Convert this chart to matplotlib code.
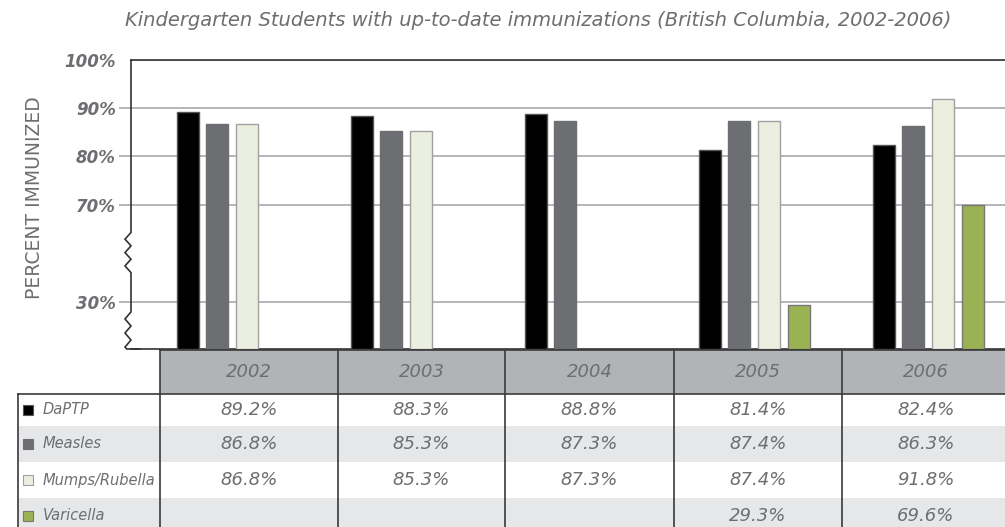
import numpy as np
import matplotlib.pyplot as plt
from matplotlib.patches import Rectangle
from matplotlib.transforms import blended_transform_factory

# data
years = ["2002", "2003", "2004", "2005", "2006"]
vaccines = ["DaPTP", "Measles", "Mumps/Rubella", "Varicella"]
daptp = [89.2, 88.3, 88.8, 81.4, 82.4]
measles = [86.8, 85.3, 87.3, 87.4, 86.3]
mumps = [86.8, 85.3, 87.3, 87.4, 91.8]
varicella = [None, None, None, 29.3, 69.6]
# the original graphic has no mumps/rubella bar for 2004
mumps_bar = [True, True, False, True, True]
y_ticks = [30, 70, 80, 90, 100]

series = [daptp, measles, mumps, varicella]
show = [[True] * 5, [True] * 5, mumps_bar, [True] * 5]
colors = ["#000000", "#6d6e71", "#ebefdf", "#9bb254"]
edges = ["#555555", "#6d6e71", "#a0a0a0", "#777777"]
gray = "#6d6e71"


# broken axis: 30-70 squeezed to about half scale
def fwd(v):
    return np.interp(v, [-1000, 30, 70, 1000], [-1000, 30, 50.2, 980.2])


def inv(y):
    return np.interp(y, [-1000, 30, 50.2, 980.2], [-1000, 30, 70, 1000])


fig = plt.figure(figsize=(10.05, 5.27), dpi=100)
ax = fig.add_axes([131 / 1005, 1 - 349 / 527, 874 / 1005, 289 / 527])
ax.set_yscale("function", functions=(fwd, inv))
ax.set_ylim(20.2, 100)
ax.set_xlim(-0.263, 4.76)

slot = 0.1707
width = 0.126
for j, vals in enumerate(series):
    for i, v in enumerate(vals):
        if v is None or not show[j][i]:
            continue
        ax.bar(i + j * slot, v - 20.2, bottom=20.2, width=width, align="edge",
               color=colors[j], edgecolor=edges[j], linewidth=1, zorder=3)

ax.set_axisbelow(True)
ax.yaxis.grid(True, color="#a7a9ac", linewidth=1.2)
ax.set_yticks(y_ticks, [f"{t}%" for t in y_ticks], fontsize=12,
              fontstyle="italic", fontweight="bold", color=gray)
ax.tick_params(axis="y", direction="out", length=9, width=1.2,
               color="#a7a9ac", pad=2)
ax.yaxis.get_major_ticks()[-1].tick1line.set_visible(False)
ax.set_xticks([])
ax.spines["right"].set_visible(False)
ax.spines["left"].set_visible(False)
ax.spines["top"].set_color("#333333")
ax.spines["bottom"].set_color("#333333")
ax.spines["top"].set_linewidth(1.2)
ax.spines["bottom"].set_linewidth(1.2)

# left axis line with zigzag breaks
tr = blended_transform_factory(ax.transAxes, ax.transData)
dx = 6 / 874
xs = [0, 0]
ys = [100, 58.5]
for k, y in enumerate(np.linspace(58.5, 42, 7)[1:]):
    xs.append(-dx if k % 2 == 0 else 0)
    ys.append(y)
xs.append(0)
ys.append(27.9)
for k, y in enumerate(np.linspace(27.9, 20.6, 6)[1:]):
    xs.append(-dx if k % 2 == 0 else 0)
    ys.append(y)
xs += [-dx * 0.7, 0.01]
ys += [20.2, 20.2]
ax.plot(xs, ys, color="#333333", lw=1.2, transform=tr, clip_on=False,
        solid_joinstyle="miter")

fig.text(538 / 1005, 1 - 20 / 527,
         "Kindergarten Students with up-to-date immunizations (British Columbia, 2002-2006)",
         ha="center", va="center", fontsize=14, fontstyle="italic", color=gray)
fig.text(35 / 1005, 1 - 198 / 527, "PERCENT IMMUNIZED", rotation=90,
         ha="center", va="center", fontsize=13.5, color=gray)

# data table under the chart, in pixel coordinates
tab = fig.add_axes([0, 0, 1, 1], facecolor="none")
tab.set_xlim(0, 1005)
tab.set_ylim(527, 0)
tab.axis("off")

col_edges = [160, 338, 505, 674, 842, 1010]
row_edges = [394, 426, 462, 498, 534]
dark = "#3a3a3a"

tab.add_patch(Rectangle((160, 350), 850, 44, color="#b1b3b6", lw=0))
for r in (1, 3):
    tab.add_patch(Rectangle((18, row_edges[r]), 1000,
                            row_edges[r + 1] - row_edges[r],
                            color="#e6e7e8", lw=0))
tab.plot([160, 1005], [350, 350], color=dark, lw=1.2)
tab.plot([18, 1005], [394, 394], color=dark, lw=1.2)
tab.plot([18, 18], [394, 527], color=dark, lw=1.2)
for xe in col_edges[:-1]:
    tab.plot([xe, xe], [350, 527], color=dark, lw=1.2)

for i, yr in enumerate(years):
    xc = (col_edges[i] + col_edges[i + 1]) / 2
    tab.text(xc, 372, yr, ha="center", va="center", fontsize=13,
             fontstyle="italic", color=gray)
    for j, vals in enumerate(series):
        yc = (row_edges[j] + row_edges[j + 1]) / 2
        if vals[i] is not None:
            tab.text(xc, yc, f"{vals[i]:.1f}%", ha="center", va="center",
                     fontsize=13, fontstyle="italic", color=gray)

for j, name in enumerate(vaccines):
    yc = (row_edges[j] + row_edges[j + 1]) / 2
    tab.add_patch(Rectangle((23, yc - 5), 10, 10, facecolor=colors[j],
                            edgecolor=edges[j], lw=0.8))
    tab.text(43, yc, name, ha="left", va="center", fontsize=10.5,
             fontstyle="italic", color=gray)

fig.savefig("out.png", dpi=100)
